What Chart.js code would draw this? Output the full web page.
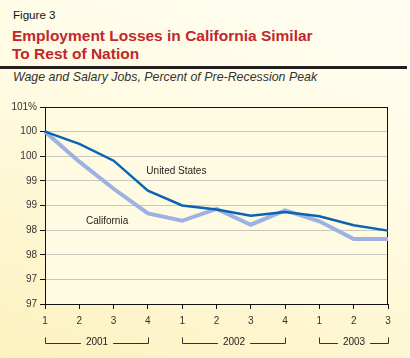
<!DOCTYPE html>
<html>
<head>
<meta charset="utf-8">
<script src="https://cdn.jsdelivr.net/npm/chart.js@4.4.1/dist/chart.umd.min.js"></script>
<style>
  html, body { margin: 0; padding: 0; }
  body {
    width: 410px; height: 358px; overflow: hidden; position: relative;
    background: linear-gradient(200deg, #fffef3 0%, #fffbe2 45%, #fcf1bf 100%);
    font-family: "Liberation Sans", Arial, sans-serif;
  }
  #fig { position: absolute; left: 13px; top: 8px; font-size: 11.6px; color: #111; }
  #title { position: absolute; left: 12px; top: 27px; font-size: 15.5px; font-weight: bold; color: #c1272d; line-height: 18px; }
  #rule { position: absolute; left: 0; top: 66px; width: 407px; height: 3px; background: #231f20; }
  #sub { position: absolute; left: 13px; top: 70px; font-size: 12.4px; font-style: italic; color: #333; }
  canvas { position: absolute; left: 0; top: 0; }
</style>
</head>
<body>
<div id="fig">Figure 3</div>
<div id="title">Employment Losses in California Similar<br>To Rest of Nation</div>
<div id="rule"></div>
<div id="sub">Wage and Salary Jobs, Percent of Pre-Recession Peak</div>
<canvas id="c" width="410" height="358"></canvas>
<script>
// ---- Data ----
const quarters = ["1", "2", "3", "4", "1", "2", "3", "4", "1", "2", "3"];
const years = ["2001", "2002", "2003"];
const yearStart = [0, 4, 8];
const yearEnd = [3, 7, 10];
const unitedStates = [100.0, 99.75, 99.41, 98.80, 98.50, 98.42, 98.29, 98.37, 98.28, 98.10, 97.99];
const california = [100.0, 99.39, 98.84, 98.34, 98.19, 98.43, 98.11, 98.40, 98.18, 97.82, 97.82];
const yTickLabels = ["97", "97", "98", "98", "99", "99", "100", "100", "101%"]; // bottom to top (96.5 .. 100.5)

// ---- Layout / styles (not data) ----
const FONT = '"Liberation Sans", Arial, sans-serif';
const Y_MIN = 96.5, Y_MAX = 100.5, Y_STEP = 0.5;
const seriesLabels = [
  { text: "United States", xIndex: 3.83, y: 99.20 },
  { text: "California", xIndex: 1.81, y: 98.19 }
];

const decor = {
  id: 'decor',
  beforeDraw(chart) {
    const { ctx, chartArea: a } = chart;
    ctx.save();
    ctx.fillStyle = '#fffbe3';
    ctx.fillRect(a.left, a.top, a.right - a.left, a.bottom - a.top);
    ctx.restore();
  },
  beforeDatasetsDraw(chart) {
    const { ctx, chartArea: a } = chart;
    ctx.save();
    ctx.strokeStyle = '#111';
    ctx.lineWidth = 1;
    ctx.strokeRect(a.left + 0.5, a.top + 0.5, a.right - a.left - 1, a.bottom - a.top);
    ctx.restore();
  },
  afterDraw(chart) {
    const { ctx, scales } = chart;
    const x = scales.x, y = scales.y;
    ctx.save();
    ctx.font = '10px ' + FONT;
    ctx.fillStyle = '#222';
    ctx.textBaseline = 'middle';
    ctx.textAlign = 'center';
    seriesLabels.forEach(l => {
      const px = x.left + (x.right - x.left) * l.xIndex / (quarters.length - 1);
      ctx.fillText(l.text, px, y.getPixelForValue(l.y));
    });
    // year brackets
    const by = 343.5;
    ctx.strokeStyle = '#333';
    ctx.lineWidth = 1;
    years.forEach((yr, i) => {
      const x0 = Math.round(x.getPixelForValue(yearStart[i])) + 0.5;
      const x1 = Math.round(x.getPixelForValue(yearEnd[i])) + 0.5;
      const cx = (x0 + x1) / 2;
      const tw = ctx.measureText(yr).width;
      ctx.beginPath();
      ctx.moveTo(x0, by - 6); ctx.lineTo(x0, by); ctx.lineTo(cx - tw / 2 - 5, by);
      ctx.moveTo(cx + tw / 2 + 5, by); ctx.lineTo(x1, by); ctx.lineTo(x1, by - 6);
      ctx.stroke();
      ctx.fillText(yr, cx, by - 1);
    });
    ctx.restore();
  }
};

new Chart(document.getElementById('c'), {
  type: 'line',
  data: {
    labels: quarters,
    datasets: [
      { label: 'United States', data: unitedStates, borderColor: '#0b63b2', borderWidth: 2.5, pointRadius: 0, tension: 0 },
      { label: 'California', data: california, borderColor: '#9db1e2', borderWidth: 4, pointRadius: 0, tension: 0 }
    ]
  },
  options: {
    responsive: false,
    animation: false,
    events: [],
    layout: { padding: { left: 0, right: 22, top: 107, bottom: 0 } },
    plugins: { legend: { display: false }, tooltip: { enabled: false }, title: { display: false } },
    scales: {
      x: {
        type: 'category',
        offset: false,
        grid: { drawOnChartArea: false, drawTicks: true, tickLength: 5, tickColor: '#111' },
        border: { color: '#111', width: 1 },
        ticks: { font: { size: 10, family: FONT }, color: '#333', padding: 6, maxRotation: 0, autoSkip: false },
        afterFit(s) { s.height = 54; }
      },
      y: {
        min: Y_MIN, max: Y_MAX,
        grid: {
          color: ctx => (ctx.tick && ctx.tick.value === Y_MAX) ? '#111' : '#c9c6bc',
          tickColor: '#111', tickLength: 5, lineWidth: 1
        },
        border: { color: '#111', width: 1 },
        ticks: {
          stepSize: Y_STEP,
          font: { size: 10, family: FONT }, color: '#333', padding: 3,
          callback: v => yTickLabels[Math.round((v - Y_MIN) / Y_STEP)]
        },
        afterFit(s) { s.width = 45; }
      }
    }
  },
  plugins: [decor]
});
</script>
</body>
</html>
